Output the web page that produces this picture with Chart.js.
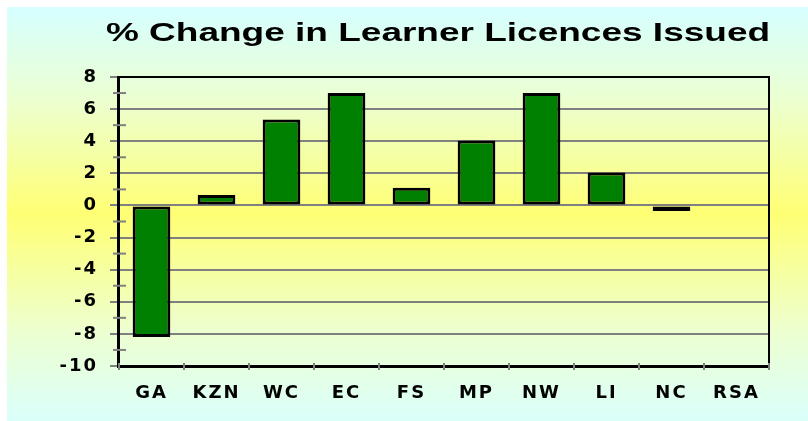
<!DOCTYPE html>
<html>
<head>
<meta charset="utf-8">
<script src="https://cdn.jsdelivr.net/npm/chart.js@4/dist/chart.umd.min.js"></script>
<style>
  body { margin: 0; background: #ffffff; }
  #wrap { position: relative; width: 808px; height: 421px; }
</style>
</head>
<body>
<div id="wrap"><canvas id="licenceChart" width="808" height="421"></canvas></div>
<script>
// chart data
const chartTitle = '% Change in Learner Licences Issued';
const provinces = ['GA', 'KZN', 'WC', 'EC', 'FS', 'MP', 'NW', 'LI', 'NC', 'RSA'];
const percentChange = [-8.2, 0.65, 5.35, 7.0, 1.1, 4.05, 7.0, 2.05, -0.35, null];
const yMin = -10;
const yMax = 8;

// page background with the cyan / yellow fade and the title text
const backgroundPlugin = {
    id: 'background',
    beforeDraw(chart) {
        const ctx = chart.ctx;
        ctx.save();
        ctx.fillStyle = '#ffffff';
        ctx.fillRect(0, 0, chart.width, chart.height);
        const grad = ctx.createLinearGradient(0, 7, 0, 421);
        grad.addColorStop(0, '#d6ffff');
        grad.addColorStop(0.22, '#ebffd2');
        grad.addColorStop(0.5, '#ffff74');
        grad.addColorStop(0.78, '#edffcf');
        grad.addColorStop(1, '#dafffb');
        ctx.fillStyle = grad;
        ctx.fillRect(7, 7, chart.width - 7, 414);
        ctx.restore();
        // spacing for the tick labels
        ctx.letterSpacing = '2px';
    },
    afterDraw(chart) {
        const ctx = chart.ctx;
        ctx.save();
        ctx.letterSpacing = '0px';
        ctx.fillStyle = '#000000';
        ctx.font = 'bold 25px "Liberation Sans", Arial, sans-serif';
        ctx.textAlign = 'center';
        ctx.textBaseline = 'alphabetic';
        ctx.translate(438, 41);
        ctx.scale(1.48, 1);
        ctx.fillText(chartTitle, 0, 0);
        ctx.restore();
    }
};

// frame round the plot area plus the small ticks that cross the axes
const framePlugin = {
    id: 'frame',
    afterDatasetsDraw(chart) {
        const ctx = chart.ctx;
        const area = chart.chartArea;
        const y = chart.scales.y;
        const left = Math.round(area.left);
        const right = Math.round(area.right);
        const top = Math.round(area.top);
        const bottom = Math.round(area.bottom);
        ctx.save();
        ctx.letterSpacing = '0px';
        ctx.fillStyle = '#000000';
        ctx.fillRect(left - 1, top - 1, right - left + 2, 2);
        ctx.fillRect(right - 1, top - 1, 2, bottom - top + 2);
        ctx.fillRect(left - 1, bottom - 1, right - left + 2, 3);
        ctx.fillRect(left - 2, top - 1, 3, bottom - top + 3);
        ctx.strokeStyle = '#808080';
        ctx.lineWidth = 2;
        for (let v = yMin + 1; v < yMax; v += 2) {
            const py = y.getPixelForValue(v);
            ctx.beginPath();
            ctx.moveTo(left - 6, py);
            ctx.lineTo(left + 7, py);
            ctx.stroke();
        }
        for (let i = 0; i <= provinces.length; i++) {
            const px = left + (right - left) * i / provinces.length;
            ctx.beginPath();
            ctx.moveTo(px, bottom - 3);
            ctx.lineTo(px, bottom + 4);
            ctx.stroke();
        }
        ctx.restore();
    }
};

new Chart(document.getElementById('licenceChart'), {
    type: 'bar',
    data: {
        labels: provinces,
        datasets: [{
            label: chartTitle,
            data: percentChange,
            backgroundColor: '#008000',
            borderColor: '#000000',
            borderWidth: 3,
            borderSkipped: false,
            barPercentage: 0.58,
            categoryPercentage: 1
        }]
    },
    options: {
        responsive: false,
        animation: false,
        layout: {
            padding: { left: 0, top: 77, right: 39, bottom: 0 }
        },
        plugins: {
            legend: { display: false },
            title: { display: false },
            tooltip: { enabled: false }
        },
        scales: {
            x: {
                afterFit(scale) { scale.height = 55; },
                grid: {
                    display: false
                },
                border: { display: false },
                ticks: {
                    color: '#000000',
                    padding: 9,
                    font: { family: 'DejaVu Sans', weight: 'bold', size: 18 }
                }
            },
            y: {
                min: yMin,
                max: yMax,
                afterFit(scale) { scale.width = 119; },
                grid: {
                    color: ctx => (ctx.tick && ctx.tick.value % 2 !== 0) ? 'rgba(0,0,0,0)' : '#808080',
                    lineWidth: 2,
                    tickLength: 9
                },
                border: { display: false },
                ticks: {
                    stepSize: 1,
                    color: '#000000',
                    padding: 12,
                    font: { family: 'DejaVu Sans', weight: 'bold', size: 18 },
                    callback: value => value % 2 === 0 ? value : ''
                }
            }
        }
    },
    plugins: [backgroundPlugin, framePlugin]
});
</script>
</body>
</html>
